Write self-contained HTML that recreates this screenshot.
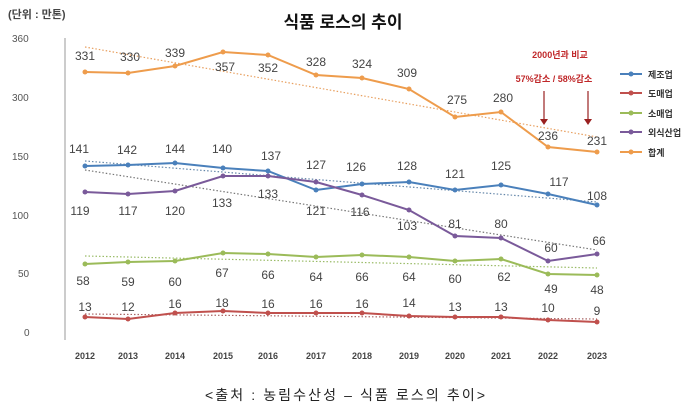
<html><head><style>body{margin:0;background:#fff}svg{display:block;font-family:"Liberation Sans","Noto Sans CJK KR",sans-serif}</style></head><body>
<svg width="690" height="414" viewBox="0 0 690 414">
<defs><marker id="m" viewBox="0 0 6 6" refX="3" refY="3" markerWidth="3" markerHeight="3"><circle cx="3" cy="3" r="2.5" fill="context-stroke"/></marker></defs>
<text x="8" y="18" font-size="11" font-weight="bold" fill="#444">(단위 : 만톤)</text>
<text x="343" y="28" font-size="17" font-weight="bold" text-anchor="middle" fill="#111">식품 로스의 추이</text>
<g font-size="10" fill="#555">
<text x="12" y="42">360</text><text x="12" y="101">300</text><text x="12" y="160">150</text><text x="12" y="219">100</text><text x="18" y="277">50</text><text x="24" y="336">0</text></g>
<line x1="65" y1="38" x2="65" y2="340" stroke="#999"/>
<g font-size="9" font-weight="bold" fill="#444" text-anchor="middle">
<text x="85" y="359">2012</text><text x="128" y="359">2013</text><text x="175" y="359">2014</text><text x="223" y="359">2015</text><text x="268" y="359">2016</text><text x="316" y="359">2017</text><text x="362" y="359">2018</text><text x="409" y="359">2019</text><text x="455" y="359">2020</text><text x="501" y="359">2021</text><text x="548" y="359">2022</text><text x="597" y="359">2023</text></g>
<g stroke-dasharray="1.5,2" stroke-width="1.2" fill="none">
<line x1="85" y1="47" x2="597" y2="137" stroke="#e8a060"/>
<line x1="85" y1="161" x2="597" y2="202" stroke="#6688aa"/>
<line x1="85" y1="170" x2="597" y2="250" stroke="#777"/>
<line x1="85" y1="256" x2="597" y2="268" stroke="#99bb66"/>
<line x1="85" y1="314" x2="597" y2="319" stroke="#aa6666"/>
</g>
<g fill="none" stroke-width="2" marker-start="url(#m)" marker-mid="url(#m)" marker-end="url(#m)">
<polyline stroke="#ee9c4c" points="85,72 128,73 175,66 223,52 268,55 316,75 362,78 409,89 455,117 501,112 548,147 597,152"/>
<polyline stroke="#4a80bb" points="85,166 128,165 175,163 223,168 268,171 316,190 362,184 409,182 455,190 501,185 548,194 597,205"/>
<polyline stroke="#7a5a9a" points="85,192 128,194 175,191 223,176 268,176 316,182 362,195 409,210 455,236 501,238 548,261 597,254"/>
<polyline stroke="#9bbb59" points="85,264 128,262 175,261 223,253 268,254 316,257 362,255 409,257 455,261 501,259 548,274 597,275"/>
<polyline stroke="#c0504d" points="85,317 128,319 175,313 223,311 268,313 316,313 362,313 409,316 455,317 501,317 548,320 597,322"/>
</g>
<g font-size="12" fill="#444" text-anchor="middle">
<text x="85" y="60">331</text><text x="130" y="61">330</text><text x="175" y="57">339</text><text x="225" y="71">357</text><text x="268" y="72">352</text><text x="316" y="66">328</text><text x="362" y="68">324</text><text x="407" y="77">309</text><text x="457" y="104">275</text><text x="503" y="102">280</text><text x="548" y="140">236</text><text x="597" y="145">231</text>
<text x="79" y="153">141</text><text x="127" y="154">142</text><text x="175" y="153">144</text><text x="222" y="153">140</text><text x="271" y="160">137</text><text x="316" y="169">127</text><text x="356" y="171">126</text><text x="407" y="170">128</text><text x="455" y="178">121</text><text x="501" y="170">125</text><text x="559" y="186">117</text><text x="597" y="200">108</text>
<text x="80" y="215">119</text><text x="128" y="215">117</text><text x="175" y="215">120</text><text x="222" y="207">133</text><text x="268" y="198">133</text><text x="316" y="215">121</text><text x="360" y="216">116</text><text x="407" y="230">103</text><text x="455" y="228">81</text><text x="501" y="228">80</text><text x="551" y="252">60</text><text x="599" y="245">66</text>
<text x="83" y="285">58</text><text x="128" y="286">59</text><text x="175" y="286">60</text><text x="222" y="277">67</text><text x="268" y="279">66</text><text x="316" y="281">64</text><text x="362" y="281">66</text><text x="409" y="281">64</text><text x="455" y="283">60</text><text x="504" y="281">62</text><text x="551" y="293">49</text><text x="597" y="294">48</text>
<text x="85" y="311">13</text><text x="128" y="311">12</text><text x="175" y="308">16</text><text x="222" y="307">18</text><text x="268" y="308">16</text><text x="316" y="308">16</text><text x="362" y="308">16</text><text x="409" y="307">14</text><text x="455" y="311">13</text><text x="501" y="311">13</text><text x="548" y="312">10</text><text x="597" y="315">9</text></g>
<g font-size="9" font-weight="bold" fill="#c0282a" text-anchor="middle"><text x="560" y="58">2000년과 비교</text><text x="554" y="82">57%감소 / 58%감소</text></g>
<g stroke="#9a2020" stroke-width="1.2"><line x1="544" y1="91" x2="544" y2="120"/><line x1="588" y1="91" x2="588" y2="120"/></g>
<g fill="#9a2020"><polygon points="540,119 548,119 544,125"/><polygon points="584,119 592,119 588,125"/></g>
<g font-size="9" font-weight="bold" fill="#333">
<line x1="620" y1="74" x2="642" y2="74" stroke="#4a80bb" stroke-width="2"/><circle cx="631" cy="74" r="2.5" fill="#4a80bb"/><text x="648" y="78">제조업</text>
<line x1="620" y1="93" x2="642" y2="93" stroke="#c0504d" stroke-width="2"/><circle cx="631" cy="93" r="2.5" fill="#c0504d"/><text x="648" y="97">도매업</text>
<line x1="620" y1="113" x2="642" y2="113" stroke="#9bbb59" stroke-width="2"/><circle cx="631" cy="113" r="2.5" fill="#9bbb59"/><text x="648" y="117">소매업</text>
<line x1="620" y1="132" x2="642" y2="132" stroke="#7a5a9a" stroke-width="2"/><circle cx="631" cy="132" r="2.5" fill="#7a5a9a"/><text x="648" y="136">외식산업</text>
<line x1="620" y1="152" x2="642" y2="152" stroke="#ee9c4c" stroke-width="2"/><circle cx="631" cy="152" r="2.5" fill="#ee9c4c"/><text x="648" y="156">합계</text></g>
<text x="205" y="400" font-size="14" textLength="280" lengthAdjust="spacing" fill="#222">&lt;출처 : 농림수산성 – 식품 로스의 추이&gt;</text>
</svg></body></html>
